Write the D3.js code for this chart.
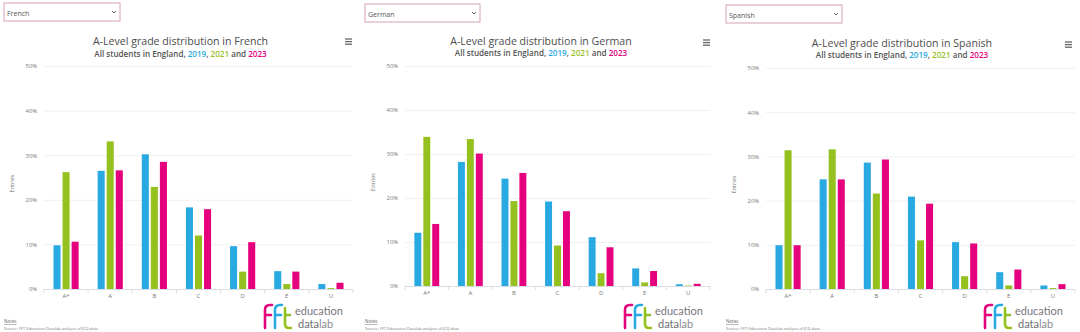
<!DOCTYPE html>
<html>
<head>
<meta charset="utf-8">
<script src="https://cdn.jsdelivr.net/npm/d3@7"></script>
<style>
  html, body { margin: 0; padding: 0; background: #fff; }
  svg { display: block; font-family: "Open Sans", "Noto Sans", sans-serif; }
</style>
</head>
<body>
<script>
// grades on the x axis, one bar per year
const grades = ["A*", "A", "B", "C", "D", "E", "U"];
const years = ["2019", "2021", "2023"];
const subjects = ["French", "German", "Spanish"];
const yTicks = [0, 10, 20, 30, 40, 50];

// % of entries
const french2019 = [9.8, 26.5, 30.2, 18.3, 9.6, 4.0, 1.1];
const french2021 = [26.2, 33.1, 22.9, 12.0, 3.9, 1.1, 0.2];
const french2023 = [10.6, 26.6, 28.5, 17.9, 10.5, 3.9, 1.4];

const german2019 = [12.1, 28.2, 24.4, 19.2, 11.1, 4.0, 0.4];
const german2021 = [33.9, 33.4, 19.3, 9.2, 2.9, 0.8, 0.1];
const german2023 = [14.1, 30.1, 25.7, 17.0, 8.8, 3.4, 0.5];

const spanish2019 = [9.9, 24.8, 28.6, 20.9, 10.6, 3.8, 0.8];
const spanish2021 = [31.4, 31.6, 21.6, 11.0, 2.9, 0.8, 0.2];
const spanish2023 = [9.9, 24.8, 29.3, 19.3, 10.3, 4.4, 1.1];

const colors = ['#29a9e1', '#95c11f', '#e5007e'];

const seriesBySubject = {
  French: [french2019, french2021, french2023],
  German: [german2019, german2021, german2023],
  Spanish: [spanish2019, spanish2021, spanish2023]
};

// where each screenshot panel sits
const layout = [
  {ox: 0,   left: 44,  right: 353,  top: 66, bottom: 289, titleX: 180.5, titleY: 45, subY: 56.5, dd: [4, 3, 116, 18],   menu: [345, 39]},
  {ox: 360, left: 405, right: 710,  top: 66, bottom: 286, titleX: 541,   titleY: 45, subY: 56,   dd: [365, 4, 115, 18], menu: [703, 40]},
  {ox: 720, left: 766, right: 1075, top: 68, bottom: 289, titleX: 902,   titleY: 47, subY: 58,   dd: [726, 5, 116, 18], menu: [1065, 42]}
];

const width = 1080;
const height = 332;

const svg = d3.select('body')
  .append('svg')
  .attr('width', width)
  .attr('height', height);

subjects.forEach((subject, si) => {
  const L = layout[si];
  const g = svg.append('g');
  const series = seriesBySubject[subject];

  // dropdown box
  const dd = g.append('g').attr('transform', `translate(${L.dd[0]},${L.dd[1]})`);
  dd.append('rect')
    .attr('width', L.dd[2]).attr('height', L.dd[3])
    .attr('fill', '#fff').attr('stroke', '#d6a3b3').attr('stroke-width', 1);
  dd.append('text')
    .attr('x', 3).attr('y', 12.5)
    .style('font-size', '7px').style('fill', '#555')
    .text(subject);
  dd.append('path')
    .attr('d', `M${L.dd[2] - 8},${8} l2,2 l2,-2`)
    .attr('fill', 'none').attr('stroke', '#666').attr('stroke-width', 1);

  // titles
  g.append('text')
    .attr('x', L.titleX).attr('y', L.titleY)
    .attr('text-anchor', 'middle')
    .style('font-size', '10.6px').style('fill', '#4d4d4d')
    .text(`A-Level grade distribution in ${subject}`);

  const sub = g.append('text')
    .attr('x', L.titleX).attr('y', L.subY)
    .attr('text-anchor', 'middle')
    .style('font-size', '8.1px').style('font-weight', 600).style('fill', '#555');
  sub.append('tspan').text('All students in England, ');
  sub.append('tspan').style('fill', colors[0]).text(years[0]);
  sub.append('tspan').text(', ');
  sub.append('tspan').style('fill', colors[1]).text(years[1]);
  sub.append('tspan').text(' and ');
  sub.append('tspan').style('fill', colors[2]).text(years[2]);

  // hamburger menu
  [0, 2.6, 5.2].forEach(dy => {
    g.append('line')
      .attr('x1', L.menu[0]).attr('x2', L.menu[0] + 7)
      .attr('y1', L.menu[1] + dy).attr('y2', L.menu[1] + dy)
      .attr('stroke', '#666').attr('stroke-width', 1.3);
  });

  const yScale = d3.scaleLinear()
    .domain([0, 50])
    .range([L.bottom, L.top]);

  const x0 = d3.scaleBand()
    .domain(grades)
    .range([L.left, L.right])
    .paddingInner(0.43)
    .paddingOuter(0.215);

  const x1 = d3.scaleBand()
    .domain(years)
    .range([0, x0.bandwidth()])
    .paddingInner(0.222);

  // gridlines + y labels
  const yAxis = d3.axisLeft(yScale)
    .tickValues(yTicks)
    .tickSize(-(L.right - L.left))
    .tickPadding(7)
    .tickFormat(d => d + '%');

  const ya = g.append('g')
    .attr('transform', `translate(${L.left},0)`)
    .call(yAxis);
  ya.select('.domain').remove();
  ya.selectAll('line').attr('stroke', '#ececec').attr('stroke-width', 0.8);
  ya.selectAll('text')
    .style('font-size', '5.8px').style('fill', '#777')
    .style('font-family', '"Open Sans", sans-serif');

  g.append('text')
    .attr('transform', `translate(${L.left - 30},${(L.top + L.bottom) / 2 + 6})rotate(-90)`)
    .attr('text-anchor', 'middle')
    .style('font-size', '5.5px').style('fill', '#777')
    .text('Entries');

  // bars
  grades.forEach((grade, gi) => {
    g.selectAll(null)
      .data(years)
      .enter()
      .append('rect')
      .attr('x', (d, i) => x0(grade) + x1(d))
      .attr('y', (d, i) => yScale(series[i][gi]))
      .attr('width', x1.bandwidth())
      .attr('height', (d, i) => L.bottom - yScale(series[i][gi]))
      .attr('fill', (d, i) => colors[i]);
  });

  // x axis line, ticks between categories, labels
  g.append('line')
    .attr('x1', L.left).attr('x2', L.right)
    .attr('y1', L.bottom + 0.5).attr('y2', L.bottom + 0.5)
    .attr('stroke', '#d8dde6').attr('stroke-width', 1);

  const step = x0.step();
  d3.range(grades.length + 1).forEach(i => {
    const tx = L.left + i * step;
    g.append('line')
      .attr('x1', tx).attr('x2', tx)
      .attr('y1', L.bottom).attr('y2', L.bottom + 4)
      .attr('stroke', '#d8dde6').attr('stroke-width', 1);
  });

  g.selectAll(null)
    .data(grades)
    .enter()
    .append('text')
    .attr('x', d => x0(d) + x0.bandwidth() / 2)
    .attr('y', L.bottom + 9)
    .attr('text-anchor', 'middle')
    .style('font-size', '6px').style('fill', '#777')
    .text(d => d);

  // notes
  g.append('text')
    .attr('x', L.dd[0]).attr('y', 323)
    .style('font-size', '4.5px').style('fill', '#666')
    .style('text-decoration', 'underline')
    .text('Notes');
  g.append('text')
    .attr('x', L.dd[0]).attr('y', 330)
    .style('font-size', '4px').style('fill', '#777')
    .text('Source: FFT Education Datalab analysis of JCQ data');

  // logo
  const lx = L.ox + 265;
  const ly = 328;
  const logo = g.append('g')
    .attr('fill', 'none').attr('stroke-width', 2.6).attr('stroke-linecap', 'round');
  logo.append('path')
    .attr('d', `M${lx},${ly} V${ly - 18} Q${lx},${ly - 23} ${lx + 5},${ly - 23} H${lx + 7} M${lx},${ly - 13} H${lx + 6}`)
    .attr('stroke', '#e5007e');
  logo.append('path')
    .attr('d', `M${lx + 10},${ly} V${ly - 18} Q${lx + 10},${ly - 23} ${lx + 15},${ly - 23} H${lx + 17} M${lx + 10},${ly - 13} H${lx + 16}`)
    .attr('stroke', '#29a9e1');
  logo.append('path')
    .attr('d', `M${lx + 20},${ly - 20} V${ly - 4} Q${lx + 20},${ly} ${lx + 24},${ly} H${lx + 26} M${lx + 20},${ly - 13} H${lx + 25}`)
    .attr('stroke', '#95c11f');

  g.append('text')
    .attr('x', lx + 30).attr('y', 315)
    .style('font-family', 'Lato, "Open Sans", sans-serif')
    .style('font-size', '11px').style('fill', '#77787b')
    .text('education');
  const dl = g.append('text')
    .attr('x', lx + 33).attr('y', 328)
    .style('font-family', 'Lato, "Open Sans", sans-serif')
    .style('font-size', '11px').style('fill', '#6d6e71');
  dl.append('tspan').text('data');
  dl.append('tspan').style('fill', '#8a8b8d').text('lab');
});
</script>
</body>
</html>
